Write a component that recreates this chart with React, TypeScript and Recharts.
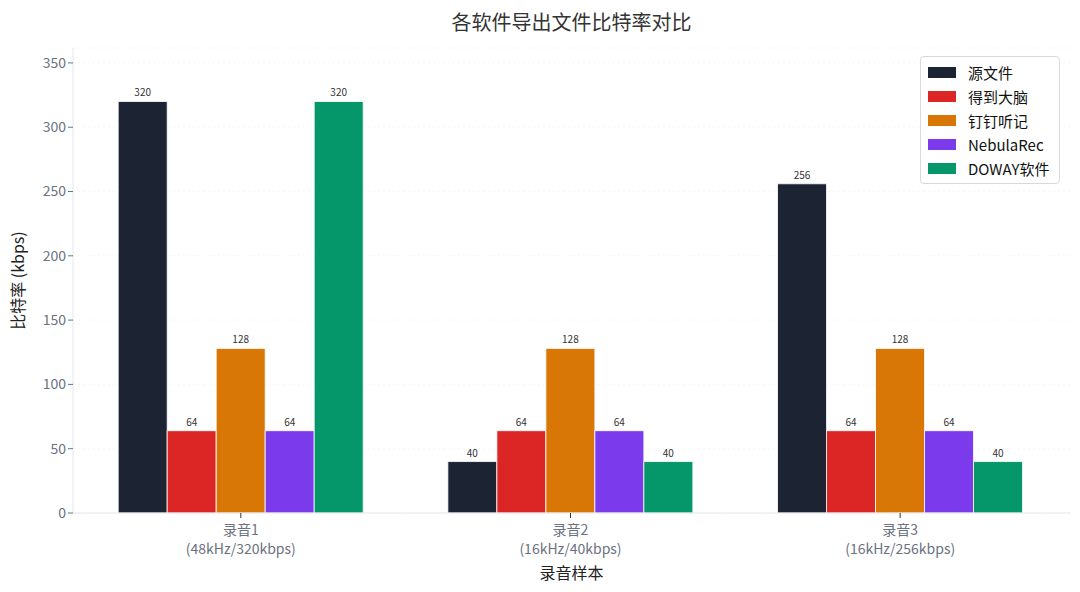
import { BarChart, Bar, XAxis, YAxis, CartesianGrid, LabelList } from "recharts";

const categories = ["录音1\n(48kHz/320kbps)", "录音2\n(16kHz/40kbps)", "录音3\n(16kHz/256kbps)"];
const seriesNames = ["源文件", "得到大脑", "钉钉听记", "NebulaRec", "DOWAY软件"];
const sourceFile = [320, 40, 256];
const dedao = [64, 64, 64];
const dingding = [128, 128, 128];
const nebulaRec = [64, 64, 64];
const doway = [320, 40, 40];
const yTicks = [0, 50, 100, 150, 200, 250, 300, 350];

const colors = ["#1c2433", "#dc2626", "#d97706", "#7c3aed", "#059669"];
const FONT = "'Noto Sans CJK SC', 'Noto Sans', sans-serif";

const data = categories.map((name, i) => ({
  name,
  s0: sourceFile[i],
  s1: dedao[i],
  s2: dingding[i],
  s3: nebulaRec[i],
  s4: doway[i],
}));

const XTick = ({ x, y, payload }: any) => {
  const lines = String(payload.value).split("\n");
  return (
    <g transform={`translate(${x},${y})`}>
      {lines.map((line, i) => (
        <text key={i} x={0} y={15 + i * 19} textAnchor="middle" fill="#6b7280" fontSize={14} fontFamily={FONT}>
          {line}
        </text>
      ))}
    </g>
  );
};

// y axis title drawn at a fixed spot left of the ticks
const YTitle = ({ viewBox }: any) => {
  const cy = viewBox.y + viewBox.height / 2;
  return (
    <text x={24} y={cy} transform={`rotate(-90, 24, ${cy})`} textAnchor="middle" fill="#222" fontSize={16} fontFamily={FONT}>
      比特率 (kbps)
    </text>
  );
};

const LegendBox = () => (
  <div
    style={{
      position: "absolute",
      top: 56,
      left: 920,
      border: "1px solid #d9d9d9",
      borderRadius: 4,
      background: "#fff",
      padding: "3px 10px 3px 7px",
      fontFamily: FONT,
      fontSize: 15,
      color: "#111",
    }}
  >
    {seriesNames.map((n, i) => (
      <div key={n} style={{ display: "flex", alignItems: "center", height: 24 }}>
        <span style={{ display: "inline-block", width: 28, height: 11, background: colors[i], marginRight: 12 }} />
        <span>{n}</span>
      </div>
    ))}
  </div>
);

export default function App() {
  return (
    <div style={{ position: "absolute", left: 0, top: 0, width: 1080, height: 592, background: "#fff" }}>
      <div
        style={{
          position: "absolute",
          top: 7,
          left: 73,
          width: 997,
          textAlign: "center",
          fontFamily: FONT,
          fontSize: 20,
          color: "#333",
        }}
      >
        各软件导出文件比特率对比
      </div>
      <BarChart
        width={1080}
        height={592}
        data={data}
        margin={{ top: 48, right: 10, bottom: 29, left: 0 }}
        barCategoryGap="12.8%"
        barGap={0}
      >
        <CartesianGrid vertical={false} stroke="#eeeeee" strokeDasharray="2 3" strokeOpacity={0.5} />
        <XAxis
          dataKey="name"
          height={50}
          padding={{ left: 3, right: 5 }}
          tick={<XTick />}
          tickLine={{ stroke: "#333" }}
          tickSize={5}
          axisLine={{ stroke: "#e5e7eb" }}
          interval={0}
          label={{ value: "录音样本", position: "insideBottom", offset: -16, fill: "#222", fontSize: 16, fontFamily: FONT }}
        />
        <YAxis
          width={73}
          domain={[0, 361.6]}
          ticks={yTicks}
          allowDataOverflow
          tick={{ fill: "#6b7280", fontSize: 14, fontFamily: FONT }}
          tickLine={{ stroke: "#6b7280" }}
          tickSize={5}
          axisLine={{ stroke: "#e5e7eb" }}
          label={<YTitle />}
        />
        {seriesNames.map((n, i) => (
          <Bar key={n} dataKey={`s${i}`} name={n} fill={colors[i]} stroke="#fff" strokeWidth={0.8} isAnimationActive={false}>
            <LabelList dataKey={`s${i}`} position="top" offset={5} fill="#333" fontSize={10} fontFamily={FONT} />
          </Bar>
        ))}
      </BarChart>
      <LegendBox />
    </div>
  );
}
